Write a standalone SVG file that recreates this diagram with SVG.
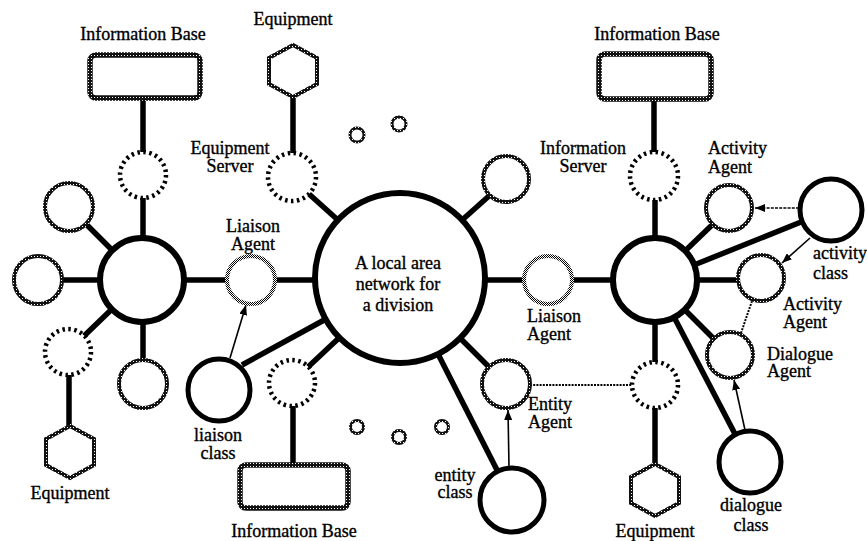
<svg xmlns="http://www.w3.org/2000/svg" width="867" height="541" viewBox="0 0 867 541">
  <defs>
    <!-- dense halftone used for agent rings, bases and equipment outlines -->
    <pattern id="hatch" width="3" height="3" patternUnits="userSpaceOnUse">
      <rect width="3" height="3" fill="#111"/>
      <rect x="1" y="1" width="1" height="1" fill="#fff"/>
    </pattern>
    <!-- light checker used for liaison agents -->
    <pattern id="sparse" width="2" height="2" patternUnits="userSpaceOnUse">
      <rect width="2" height="2" fill="#fff"/>
      <rect width="1" height="1" fill="#000"/>
      <rect x="1" y="1" width="1" height="1" fill="#000"/>
    </pattern>
    <marker id="ah" viewBox="0 0 10 8" refX="10" refY="4" markerWidth="10" markerHeight="8" markerUnits="userSpaceOnUse" orient="auto">
      <path d="M0,0 L10,4 L0,8 Z" fill="#000"/>
    </marker>
    <style>
      .hub { fill: #fff; stroke: #000; stroke-width: 6; }
      .cls { fill: #fff; stroke: #000; stroke-width: 5; }
      .agent { fill: #fff; stroke: url(#hatch); stroke-width: 4; }
      .liaison { fill: #fff; stroke: url(#sparse); stroke-width: 4; }
      .server { fill: #fff; stroke: #000; stroke-width: 4.5; stroke-dasharray: 2.5 3.5; }
      .base { fill: #fff; stroke: url(#hatch); stroke-width: 5.5; }
      .equip { fill: #fff; stroke: url(#hatch); stroke-width: 4; }
      .dot { fill: #fff; stroke: url(#hatch); stroke-width: 3; }
      .link { stroke: #000; stroke-width: 5.5; fill: none; }
      .arrow { stroke: #000; stroke-width: 1.6; fill: none; marker-end: url(#ah); }
      .dash { stroke-dasharray: 3 1.2; }
      .dotted { stroke: #000; stroke-width: 2; fill: none; stroke-dasharray: 2 1.2; }
      text { font-family: "Liberation Serif", "Times New Roman", serif; font-size: 18px; fill: #000; stroke: #000; stroke-width: 0.35; }
      .m { text-anchor: middle; }
    </style>
  </defs>

  <rect width="867" height="541" fill="#fff"/>

  <!-- connectors -->
  <g id="connectors">
    <!-- left division hub -->
    <line class="link" x1="143" y1="98" x2="143" y2="152"/>
    <line class="link" x1="143" y1="198" x2="143" y2="238"/>
    <line class="link" x1="112" y1="250" x2="86" y2="224"/>
    <line class="link" x1="100" y1="280" x2="62" y2="280"/>
    <line class="link" x1="112" y1="309" x2="84" y2="336"/>
    <line class="link" x1="69" y1="375" x2="69" y2="426"/>
    <line class="link" x1="143" y1="321" x2="143" y2="360"/>
    <line class="link" x1="184" y1="280" x2="227" y2="280"/>
    <line class="link" x1="275" y1="280" x2="316" y2="280"/>
    <line class="link" x1="242" y1="365" x2="326" y2="319"/>
    <line class="arrow" x1="230" y1="358" x2="246" y2="305"/>
    <!-- central LAN -->
    <line class="link" x1="339" y1="221" x2="309" y2="194"/>
    <line class="link" x1="293" y1="97" x2="293" y2="153"/>
    <line class="link" x1="340" y1="337" x2="308" y2="367"/>
    <line class="link" x1="293" y1="406" x2="293" y2="465"/>
    <line class="link" x1="461" y1="221" x2="489" y2="196"/>
    <line class="link" x1="460" y1="338" x2="489" y2="367"/>
    <line class="link" x1="438" y1="354" x2="497" y2="470"/>
    <line class="arrow" x1="509" y1="467" x2="508" y2="410"/>
    <line class="dotted" x1="530" y1="385" x2="632" y2="385"/>
    <line class="link" x1="484" y1="280" x2="524" y2="280"/>
    <line class="link" x1="572" y1="280" x2="614" y2="280"/>
    <!-- right division hub -->
    <line class="link" x1="654" y1="99" x2="654" y2="152"/>
    <line class="link" x1="655" y1="200" x2="655" y2="238"/>
    <line class="link" x1="685" y1="251" x2="712" y2="225"/>
    <line class="link" x1="694" y1="265" x2="801" y2="222"/>
    <line class="link" x1="696" y1="280" x2="737" y2="280"/>
    <line class="link" x1="685" y1="310" x2="714" y2="339"/>
    <line class="link" x1="674" y1="317" x2="735" y2="434"/>
    <line class="link" x1="655" y1="321" x2="655" y2="362"/>
    <line class="link" x1="655" y1="408" x2="655" y2="464"/>
    <line class="arrow dash" x1="799" y1="208" x2="755" y2="208"/>
    <line class="arrow" x1="810" y1="238" x2="782" y2="263"/>
    <line class="dotted" x1="752" y1="301" x2="741" y2="333"/>
    <line class="arrow" x1="745" y1="430" x2="734" y2="380"/>
  </g>

  <!-- central local area network -->
  <g id="lan">
    <circle class="hub" cx="400" cy="278" r="85"/>
    <text class="m" x="398" y="269">A local area</text>
    <text class="m" x="398" y="290">network for</text>
    <text class="m" x="398" y="311">a division</text>
  </g>

  <!-- left division -->
  <g id="left-hub"><circle class="hub" cx="142" cy="280" r="42"/></g>
  <g id="left-base">
    <rect class="base" x="90" y="55" width="110" height="43" rx="6"/>
    <text class="m" x="143" y="40">Information Base</text>
  </g>
  <g id="left-info-server"><circle class="server" cx="143" cy="175" r="23"/></g>
  <g id="left-node-a"><circle class="agent" cx="69" cy="207" r="24"/></g>
  <g id="left-node-b"><circle class="agent" cx="38" cy="280" r="24"/></g>
  <g id="left-node-c"><circle class="agent" cx="143" cy="384" r="24"/></g>
  <g id="left-equip-server"><circle class="server" cx="68" cy="352" r="23"/></g>
  <g id="left-equipment">
    <polygon class="equip" points="70,426 94,439 94,465 70,478 46,465 46,439"/>
    <text class="m" x="70" y="499">Equipment</text>
  </g>
  <g id="left-liaison-agent">
    <circle class="liaison" cx="251" cy="280" r="24"/>
    <text class="m" x="253" y="232">Liaison</text>
    <text class="m" x="253" y="250">Agent</text>
  </g>
  <g id="liaison-class">
    <circle class="cls" cx="219" cy="390" r="31"/>
    <text class="m" x="218" y="441">liaison</text>
    <text class="m" x="218" y="459">class</text>
  </g>

  <!-- nodes round the LAN -->
  <g id="top-equipment">
    <polygon class="equip" points="293,45 317,58 317,84 293,97 269,84 269,58"/>
    <text class="m" x="293" y="25">Equipment</text>
  </g>
  <g id="equipment-server">
    <circle class="server" cx="292" cy="177" r="24"/>
    <text class="m" x="230" y="154">Equipment</text>
    <text class="m" x="230" y="172">Server</text>
  </g>
  <g id="lan-node-upper"><circle class="agent" cx="506" cy="179" r="23"/></g>
  <g id="lower-info-server"><circle class="server" cx="292" cy="383" r="23"/></g>
  <g id="lower-base">
    <rect class="base" x="240" y="465" width="108" height="43" rx="6"/>
    <text class="m" x="294" y="537">Information Base</text>
  </g>
  <g id="entity-agent">
    <circle class="agent" cx="506" cy="384" r="24"/>
    <text x="528" y="410">Entity</text>
    <text x="528" y="428">Agent</text>
  </g>
  <g id="entity-class">
    <circle class="cls" cx="512" cy="500" r="32"/>
    <text class="m" x="455" y="481">entity</text>
    <text class="m" x="455" y="498">class</text>
  </g>
  <g id="right-liaison-agent">
    <circle class="liaison" cx="548" cy="280" r="24"/>
    <text x="527" y="322">Liaison</text>
    <text x="527" y="340">Agent</text>
  </g>
  <g id="idle-nodes">
    <circle class="dot" cx="357" cy="135" r="7"/>
    <circle class="dot" cx="399" cy="124" r="7"/>
    <circle class="dot" cx="357" cy="427" r="6.5"/>
    <circle class="dot" cx="399" cy="437" r="6.5"/>
    <circle class="dot" cx="442" cy="427" r="6.5"/>
  </g>

  <!-- right division -->
  <g id="right-hub"><circle class="hub" cx="655" cy="280" r="42"/></g>
  <g id="right-base">
    <rect class="base" x="599" y="54" width="112" height="45" rx="6"/>
    <text class="m" x="657" y="40">Information Base</text>
  </g>
  <g id="right-info-server">
    <circle class="server" cx="654" cy="176" r="24"/>
    <text class="m" x="583" y="154">Information</text>
    <text class="m" x="583" y="172">Server</text>
  </g>
  <g id="activity-agent-upper">
    <circle class="agent" cx="729" cy="208" r="23"/>
    <text x="708" y="154">Activity</text>
    <text x="708" y="173">Agent</text>
  </g>
  <g id="activity-class">
    <circle class="cls" cx="831" cy="210" r="31"/>
    <text x="813" y="259">activity</text>
    <text x="813" y="279">class</text>
  </g>
  <g id="activity-agent-lower">
    <circle class="agent" cx="761" cy="278" r="23"/>
    <text x="783" y="310">Activity</text>
    <text x="783" y="328">Agent</text>
  </g>
  <g id="dialogue-agent">
    <circle class="agent" cx="730" cy="355" r="23"/>
    <text x="767" y="360">Dialogue</text>
    <text x="767" y="377">Agent</text>
  </g>
  <g id="dialogue-class">
    <circle class="cls" cx="750" cy="462" r="31"/>
    <text class="m" x="751" y="511">dialogue</text>
    <text class="m" x="751" y="531">class</text>
  </g>
  <g id="right-equip-server"><circle class="server" cx="655" cy="385" r="23"/></g>
  <g id="right-equipment">
    <polygon class="equip" points="655,464 679,477 679,503 655,516 631,503 631,477"/>
    <text class="m" x="655" y="537">Equipment</text>
  </g>
</svg>
